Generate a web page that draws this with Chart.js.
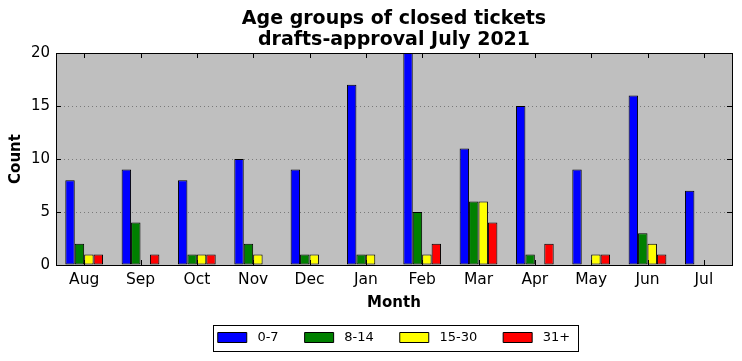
<!DOCTYPE html>
<html><head><meta charset="utf-8">
<script src="https://cdn.jsdelivr.net/npm/chart.js@4"></script>
<style>html,body{margin:0;padding:0;background:#fff}</style>
</head><body>
<canvas id="c" width="742" height="361"></canvas>
<script>
const months = ['Aug','Sep','Oct','Nov','Dec','Jan','Feb','Mar','Apr','May','Jun','Jul'];
const age0to7   = [8, 9, 8, 10, 9, 17, 20, 11, 15, 9, 16, 7];
const age8to14  = [2, 4, 1, 2, 1, 1, 5, 6, 1, 0, 3, 0];
const age15to30 = [1, 0, 1, 1, 1, 1, 1, 6, 0, 1, 2, 0];
const age31plus = [1, 1, 1, 0, 0, 0, 2, 4, 2, 1, 1, 0];
const seriesNames = ['0-7', '8-14', '15-30', '31+'];
const seriesColors = ['#0000ff', '#008000', '#ffff00', '#ff0000'];
const titleLines = ['Age groups of closed tickets', 'drafts-approval July 2021'];

const FONT = "'DejaVu Sans', sans-serif";
const LEGEND_HEIGHT = 49;
const LEGEND_TOP = 305;

const framePlugin = {
  id: 'frame',
  beforeLayout(chart) {
    const lg = chart.legend;
    if (lg && !lg._patched) {
      const orig = lg.fit;
      lg.fit = function () { orig.call(this); this.height = LEGEND_HEIGHT; };
      lg._patched = true;
    }
  },
  afterLayout(chart) {
    const lg = chart.legend;
    if (lg) { lg.top = LEGEND_TOP; lg.bottom = LEGEND_TOP + lg.height; }
  },
  beforeDraw(chart) {
    const a = chart.chartArea, ctx = chart.ctx;
    ctx.save();
    ctx.fillStyle = '#bfbfbf';
    ctx.fillRect(a.left, a.top, a.right - a.left, a.bottom - a.top);
    ctx.restore();
  },
  afterDatasetsDraw(chart) {
    const a = chart.chartArea, ctx = chart.ctx;
    ctx.save();
    ctx.strokeStyle = '#000';
    ctx.lineWidth = 1;
    ctx.beginPath();
    const y = chart.scales.y, x = chart.scales.x;
    const L = 5;
    y.ticks.forEach((t, i) => {
      const py = Math.round(y.getPixelForTick(i)) + 0.5;
      ctx.moveTo(a.left, py); ctx.lineTo(a.left + L, py);
      ctx.moveTo(a.right, py); ctx.lineTo(a.right - L, py);
    });
    x.ticks.forEach((t, i) => {
      const px = Math.round(x.getPixelForTick(i)) + 0.5;
      ctx.moveTo(px, a.top); ctx.lineTo(px, a.top + L);
      ctx.moveTo(px, a.bottom); ctx.lineTo(px, a.bottom - L);
    });
    ctx.stroke();
    ctx.strokeRect(Math.round(a.left) + 0.5, Math.round(a.top) + 0.5, Math.round(a.right - a.left), Math.round(a.bottom - a.top));
    ctx.restore();
  },
  afterDraw(chart) {
    const boxes = chart.legend && chart.legend.legendHitBoxes;
    if (!boxes || !boxes.length) return;
    let l = Infinity, r = -Infinity, t = Infinity, b = -Infinity;
    boxes.forEach(h => { l = Math.min(l, h.left); r = Math.max(r, h.left + h.width); t = Math.min(t, h.top); b = Math.max(b, h.top + h.height); });
    const ctx = chart.ctx;
    ctx.save();
    ctx.strokeStyle = '#000';
    ctx.lineWidth = 1;
    const x0 = Math.round(l - 5), x1 = Math.round(r + 8), y0 = Math.round(t - 6), y1 = Math.round(b + 7);
    ctx.strokeRect(x0 + 0.5, y0 + 0.5, x1 - x0, y1 - y0);
    ctx.restore();
  }
};

new Chart(document.getElementById('c'), {
  type: 'bar',
  data: {
    labels: months,
    datasets: [age0to7, age8to14, age15to30, age31plus].map((d, i) => ({
      label: seriesNames[i],
      data: d,
      backgroundColor: seriesColors[i],
      borderColor: '#000',
      borderWidth: 1,
      borderSkipped: false,
      inflateAmount: 0,
      barPercentage: 1,
      categoryPercentage: 0.67
    }))
  },
  options: {
    responsive: false,
    animation: false,
    devicePixelRatio: 1,
    layout: { padding: { left: 0, right: 10, top: 0, bottom: 0 } },
    plugins: {
      title: {
        display: true,
        fullSize: false,
        text: titleLines,
        color: '#000',
        font: { family: FONT, size: 19, weight: 'bold', lineHeight: '21px' },
        padding: { top: 9, bottom: 2 }
      },
      legend: {
        position: 'bottom',
        fullSize: false,
        labels: {
          color: '#000',
          font: { family: FONT, size: 13 },
          boxWidth: 29,
          boxHeight: 10,
          padding: 26,
          generateLabels(chart) {
            return chart.data.datasets.map((ds, i) => ({
              text: ' ' + ds.label, fillStyle: ds.backgroundColor, strokeStyle: '#000',
              lineWidth: 1, hidden: false, datasetIndex: i, fontColor: '#000'
            }));
          }
        }
      },
      tooltip: { enabled: false }
    },
    scales: {
      x: {
        grid: { display: false, drawTicks: false },
        border: { display: false },
        ticks: { color: '#000', font: { family: FONT, size: 15.5 }, padding: 6, maxRotation: 0 },
        title: { display: true, text: 'Month', color: '#000', font: { family: FONT, size: 15, weight: 'bold' }, padding: { top: 0, bottom: 0 } },
        afterFit(s) { s.height = 47; s.paddingLeft = 0; s.paddingRight = 0; }
      },
      y: {
        min: 0, max: 20,
        ticks: { stepSize: 5, color: '#000', font: { family: FONT, size: 15 }, padding: 6 },
        grid: { color: '#7a7a7a', drawTicks: false },
        border: { display: false, dash: [1, 3] },
        title: { display: true, text: 'Count', color: '#000', font: { family: FONT, size: 15, weight: 'bold' }, padding: { top: 7, bottom: 0 } },
        afterFit(s) { s.width = 56; s.paddingTop = 0; s.paddingBottom = 0; }
      }
    }
  },
  plugins: [framePlugin]
});
</script>
</body></html>
